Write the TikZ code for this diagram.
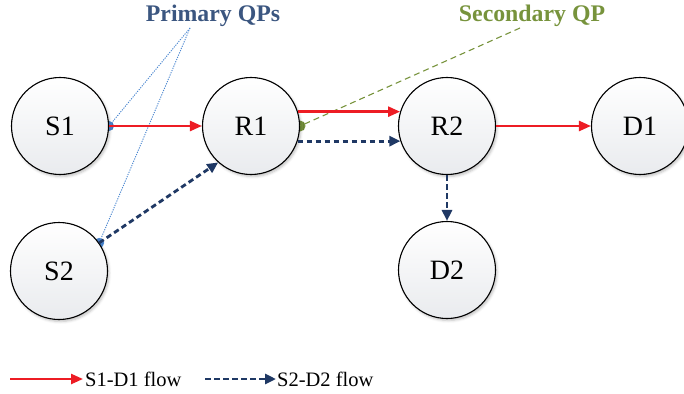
\documentclass[tikz,border=0pt]{standalone}
\usepackage{fontspec}
\setmainfont{Liberation Serif}
\usetikzlibrary{arrows.meta,shadows.blur}
\pgfdeclarelayer{background}
\pgfsetlayers{background,main}
\definecolor{flowred}{RGB}{237,28,36}
\definecolor{flownavy}{RGB}{31,56,100}
\definecolor{qpblue}{RGB}{74,134,208}
\definecolor{qplabel}{RGB}{59,86,128}
\definecolor{qpgreen}{RGB}{119,147,60}
\definecolor{nodebot}{RGB}{233,235,238}
\tikzset{
  host/.style={circle, draw=black, line width=1.1pt, minimum size=97pt, inner sep=0pt,
    top color=white, bottom color=nodebot,
    blur shadow={shadow xshift=1.5pt, shadow yshift=-2pt, shadow blur radius=2.5pt, shadow opacity=25},
    font=\fontsize{28}{30}\selectfont},
  redflow/.style={draw=flowred, line width=2.4pt, -{Triangle[length=12pt,width=10pt]}},
  navyflow/.style={draw=flownavy, line width=2.8pt, dash pattern=on 5.5pt off 3.5pt,
    -{Triangle[length=11pt,width=10pt]}},
  qplbl/.style={font=\fontsize{23.8}{26}\selectfont\bfseries},
  primline/.style={draw=qpblue, line width=0.9pt, dash pattern=on 1.2pt off 1.2pt},
  secline/.style={draw=qpgreen, line width=1.1pt, dash pattern=on 6pt off 4pt},
  legtext/.style={anchor=west, inner sep=0pt, font=\fontsize{20.5}{22}\selectfont},
}
\begin{document}
\begin{tikzpicture}[x=1pt,y=-1pt]
\useasboundingbox (0,0) rectangle (684,393);

% hosts and routers
\node[host] (S1) at (60,126) {S1};
\node[host] (S2) at (59,271) {S2};
\node[host] (R1) at (251,126) {R1};
\node[host] (R2) at (447,126) {R2};
\node[host] (D1) at (640,126) {D1};
\node[host] (D2) at (447,270) {D2};

% queue-pair markers on the ports
\begin{pgfonlayer}{background}
  \fill[qpblue] (S1.east) circle (5);
  \fill[qpblue] (S2.35) circle (5);
  \fill[qpgreen] (R1.east) circle (5.5);
\end{pgfonlayer}

% labels and their leader lines
\node[qplbl, text=qplabel] (pqp) at (213,16) {Primary QPs};
\node[qplbl, text=qpgreen] (sqp) at (532,16) {Secondary QP};
\coordinate (pqpfoot) at (190,28);
\coordinate (sqpfoot) at (520,28);
\draw[primline] (pqpfoot) -- (S1.east);
\draw[primline] (pqpfoot) -- (S2.35);
\draw[secline] (sqpfoot) -- (R1.east);

% S1-D1 flow
\draw[redflow] (S1.east) -- (R1.west);
\draw[redflow] (R1.17) -- (R2.163);
\draw[redflow] (R2.east) -- (D1.west);

% S2-D2 flow
\draw[navyflow] (S2.35) -- (R1.228);
\draw[navyflow] (R1.-18) -- (R2.-162);
\draw[navyflow] (R2.south) -- (D2.north);

% legend
\coordinate (la) at (10,379);
\coordinate (lb) at (83,379);
\coordinate (lc) at (205,379);
\coordinate (ld) at (276,379);
\draw[redflow] (la) -- (lb);
\node[legtext] (lt1) at (85,379) {S1-D1 flow};
\draw[navyflow] (lc) -- (ld);
\node[legtext] (lt2) at (277,379) {S2-D2 flow};
\end{tikzpicture}
\end{document}
